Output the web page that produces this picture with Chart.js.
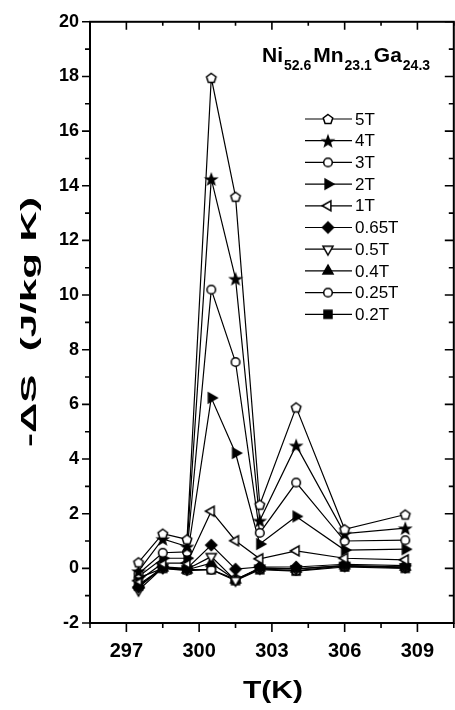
<!DOCTYPE html>
<html>
<head>
<meta charset="utf-8">
<script src="https://cdn.jsdelivr.net/npm/chart.js@4.4.0/dist/chart.umd.min.js"></script>
<style>
    html, body { margin: 0; padding: 0; background: #fff; overflow: hidden; }
    #wrap { width: 460px; height: 710px; }
</style>
</head>
<body>
<div id="wrap"><canvas id="chartCanvas" width="460" height="710"></canvas></div>
<script>
// measured temperatures (K)
var temps = [297.5, 298.5, 299.5, 300.5, 301.5, 302.5, 304, 306, 308.5];

// -dS (J/kg K) for each field
var s5T   = [0.22, 1.27, 1.06, 17.95, 13.6, 2.33, 5.89, 1.43, 1.97];
var s4T   = [-0.1, 1.08, 0.8, 14.25, 10.6, 1.75, 4.5, 1.27, 1.47];
var s3T   = [-0.2, 0.57, 0.6, 10.2, 7.55, 1.3, 3.14, 1.0, 1.03];
var s2T   = [-0.3, 0.37, 0.37, 6.24, 4.22, 0.89, 1.9, 0.67, 0.7];
var s1T   = [-0.45, 0.19, 0.19, 2.09, 1.01, 0.35, 0.64, 0.37, 0.31];
var s065T = [-0.7, 0.05, 0.0, 0.85, -0.03, 0.05, 0.05, 0.15, 0.1];
var s05T  = [-0.8, 0.02, -0.03, 0.43, -0.44, 0.0, -0.02, 0.1, 0.05];
var s04T  = [-0.6, 0.02, -0.05, 0.19, -0.42, 0.02, -0.02, 0.1, 0.05];
var s025T = [-0.35, 0.0, -0.08, -0.05, -0.4, -0.02, -0.08, 0.08, 0.02];
var s02T  = [-0.65, 0.0, -0.05, -0.05, -0.45, -0.05, -0.1, 0.05, 0.0];

var fieldLabels = ['5T', '4T', '3T', '2T', '1T', '0.65T', '0.5T', '0.4T', '0.25T', '0.2T'];
var fieldValues = [s5T, s4T, s3T, s2T, s1T, s065T, s05T, s04T, s025T, s02T];
var markerShapes = ['pentagon', 'star', 'circle', 'triR', 'triL', 'diamond', 'triD', 'triU', 'circle', 'square'];
var markerFilled = [false, true, false, true, false, true, false, true, false, true];

var xTickValues = [297, 300, 303, 306, 309];
var xMinorValues = [295.5, 298.5, 301.5, 304.5, 307.5, 310.5];
var yMinorValues = [-1, 1, 3, 5, 7, 9, 11, 13, 15, 17, 19];

function makeMarker(shape, filled) {
    var c = document.createElement('canvas');
    c.width = 16;
    c.height = 16;
    var g = c.getContext('2d');
    g.translate(8, 8);
    g.beginPath();
    var i, a, r;
    if (shape == 'circle') {
        g.arc(0, 0, 4.3, 0, Math.PI * 2);
    } else if (shape == 'pentagon') {
        for (i = 0; i < 5; i++) {
            a = -Math.PI / 2 + i * Math.PI * 2 / 5;
            g.lineTo(5 * Math.cos(a), 5 * Math.sin(a) + 0.5);
        }
    } else if (shape == 'star') {
        for (i = 0; i < 10; i++) {
            a = -Math.PI / 2 + i * Math.PI / 5;
            r = i % 2 ? 2.3 : 5.6;
            g.lineTo(r * Math.cos(a), r * Math.sin(a) + 0.8);
        }
    } else if (shape == 'square') {
        g.rect(-4, -4, 8, 8);
    } else if (shape == 'diamond') {
        g.moveTo(0, -5.5); g.lineTo(5.5, 0); g.lineTo(0, 5.5); g.lineTo(-5.5, 0);
    } else {
        var rot = { triU: -90, triD: 90, triR: 0, triL: 180 }[shape] * Math.PI / 180;
        for (i = 0; i < 3; i++) {
            a = rot + i * Math.PI * 2 / 3;
            g.lineTo(5.8 * Math.cos(a), 5.8 * Math.sin(a));
        }
    }
    g.closePath();
    g.fillStyle = filled ? '#000' : '#fff';
    g.fill();
    g.lineWidth = 1.5;
    g.strokeStyle = '#000';
    g.stroke();
    return c;
}

var markers = markerShapes.map(function (s, i) { return makeMarker(s, markerFilled[i]); });

var datasets = fieldLabels.map(function (label, i) {
    return {
        label: label,
        data: temps.map(function (t, j) { return { x: t, y: fieldValues[i][j] }; }),
        borderColor: '#000',
        borderWidth: 1.2,
        pointStyle: markers[i],
        pointRadius: 5,
        showLine: true,
        tension: 0
    };
});

function drawStretched(ctx, text, x, y, width, rotate) {
    ctx.save();
    ctx.translate(x, y);
    if (rotate) ctx.rotate(-Math.PI / 2);
    var w = ctx.measureText(text).width;
    ctx.scale(width / w, 1);
    ctx.textAlign = 'center';
    ctx.textBaseline = 'middle';
    ctx.fillText(text, 0, 0);
    ctx.restore();
}

var decorPlugin = {
    id: 'decor',
    afterDraw: function (chart) {
        var ctx = chart.ctx, a = chart.chartArea;
        var xs = chart.scales.x, ys = chart.scales.y;
        ctx.save();
        ctx.strokeStyle = '#000';
        ctx.lineWidth = 2;
        ctx.strokeRect(a.left, a.top, a.right - a.left, a.bottom - a.top);

        // ticks, major and minor, all four sides
        ctx.lineWidth = 1.6;
        ctx.beginPath();
        xTickValues.forEach(function (v) {
            var px = xs.getPixelForValue(v);
            ctx.moveTo(px, a.bottom); ctx.lineTo(px, a.bottom + 9);
            ctx.moveTo(px, a.top); ctx.lineTo(px, a.top + 8);
        });
        xMinorValues.forEach(function (v) {
            var px = xs.getPixelForValue(v);
            ctx.moveTo(px, a.bottom); ctx.lineTo(px, a.bottom + 5);
            ctx.moveTo(px, a.top); ctx.lineTo(px, a.top + 4);
        });
        ys.ticks.forEach(function (t) {
            var py = ys.getPixelForValue(t.value);
            ctx.moveTo(a.left - 8, py); ctx.lineTo(a.left, py);
            ctx.moveTo(a.right - 9, py); ctx.lineTo(a.right, py);
        });
        yMinorValues.forEach(function (v) {
            var py = ys.getPixelForValue(v);
            ctx.moveTo(a.left - 5, py); ctx.lineTo(a.left, py);
            ctx.moveTo(a.right - 5, py); ctx.lineTo(a.right, py);
        });
        ctx.stroke();

        // axis titles
        ctx.fillStyle = '#000';
        ctx.font = 'bold 22px "Liberation Sans", Arial, sans-serif';
        drawStretched(ctx, '-\u0394S  (J/kg K)', 30, 322, 250, true);
        ctx.font = 'bold 23px "Liberation Sans", Arial, sans-serif';
        drawStretched(ctx, 'T(K)', 273, 692, 60, false);

        // alloy formula
        var parts = [['Ni', 0], ['52.6', 1], ['Mn', 0], ['23.1', 1], ['Ga', 0], ['24.3', 1]];
        var fx = 262;
        ctx.textAlign = 'left';
        ctx.textBaseline = 'alphabetic';
        parts.forEach(function (p) {
            ctx.font = p[1] ? 'bold 14px "Liberation Sans", Arial, sans-serif' : 'bold 21px "Liberation Sans", Arial, sans-serif';
            if (p[1]) fx += 1;
            ctx.fillText(p[0], fx, p[1] ? 70 : 62);
            fx += ctx.measureText(p[0]).width + (p[1] ? 2 : 0);
        });

        // legend
        ctx.font = '17px "Liberation Sans", Arial, sans-serif';
        ctx.textBaseline = 'middle';
        ctx.lineWidth = 1.2;
        fieldLabels.forEach(function (label, i) {
            var ly = 119 + i * 21.7;
            ctx.beginPath();
            ctx.moveTo(305, ly); ctx.lineTo(352, ly);
            ctx.stroke();
            ctx.drawImage(markers[i], 328 - 8, ly - 8);
            ctx.fillText(label, 355, ly + 1);
        });
        ctx.restore();
    }
};

var ctx = document.getElementById('chartCanvas').getContext('2d');
var chart = new Chart(ctx, {
    type: 'line',
    data: { datasets: datasets },
    options: {
        responsive: false,
        animation: false,
        layout: { padding: { top: 17, right: 3, left: 0, bottom: 0 } },
        plugins: {
            legend: { display: false },
            tooltip: { enabled: false }
        },
        scales: {
            x: {
                type: 'linear',
                min: 295.5,
                max: 310.5,
                afterBuildTicks: function (scale) {
                    scale.ticks = xTickValues.map(function (v) { return { value: v }; });
                },
                afterFit: function (scale) { scale.height = 87; },
                grid: { display: false, drawTicks: false },
                border: { display: false },
                ticks: {
                    padding: 16,
                    color: '#000',
                    maxRotation: 0,
                    font: { family: '"Liberation Sans", Arial', weight: 'bold', size: 20 }
                }
            },
            y: {
                min: -2,
                max: 20,
                afterFit: function (scale) { scale.width = 90; },
                grid: { display: false, drawTicks: false },
                border: { display: false },
                ticks: {
                    stepSize: 2,
                    padding: 11,
                    color: '#000',
                    font: { family: '"Liberation Sans", Arial', weight: 'bold', size: 18 }
                }
            }
        }
    },
    plugins: [decorPlugin]
});
</script>
</body>
</html>
